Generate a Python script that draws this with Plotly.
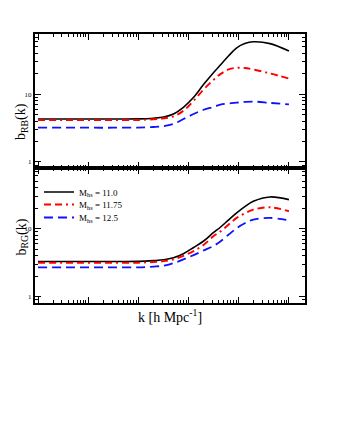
import plotly.graph_objects as go

# wavenumber k [h/Mpc]
k = [1e-4, 3.2e-4, 1e-3, 3.2e-3, 0.01, 0.02, 0.032, 0.05, 0.079, 0.126,
     0.2, 0.316, 0.43, 0.63, 0.91, 1.32, 1.95, 4.2, 10.0]

labels = ["M<sub>hs</sub> = 11.0", "M<sub>hs</sub> = 11.75", "M<sub>hs</sub> = 12.5"]

# b_RB(k)
b_rb_110 = [4.3, 4.3, 4.3, 4.3, 4.32, 4.42, 4.6, 5.1, 6.4, 9.0, 14.0, 21.0, 27.0, 37.0, 48.5, 56.0, 59.5, 56.0, 43.4]
b_rb_1175 = [4.15, 4.15, 4.15, 4.15, 4.17, 4.27, 4.42, 4.7, 5.7, 8.0, 11.8, 16.4, 19.8, 23.3, 24.6, 24.4, 23.2, 20.3, 17.0]
b_rb_125 = [3.2, 3.2, 3.2, 3.2, 3.21, 3.28, 3.38, 3.65, 4.3, 5.1, 5.9, 6.5, 7.0, 7.3, 7.5, 7.7, 7.8, 7.45, 7.06]

# b_RG(k)
b_rg_110 = [3.3, 3.3, 3.3, 3.3, 3.31, 3.4, 3.5, 3.75, 4.3, 5.3, 6.6, 8.8, 10.5, 13.5, 17.0, 21.0, 25.2, 29.2, 26.7]
b_rg_1175 = [3.16, 3.16, 3.16, 3.16, 3.17, 3.25, 3.35, 3.55, 4.0, 4.7, 5.8, 7.8, 9.1, 11.5, 14.4, 16.8, 19.0, 20.6, 18.0]
b_rg_125 = [2.7, 2.7, 2.7, 2.7, 2.71, 2.78, 2.86, 3.12, 3.55, 4.1, 4.8, 5.6, 6.5, 8.2, 10.2, 12.0, 13.6, 14.4, 13.2]

colors = ["black", "#ff0000", "#1010ff"]
dashes = ["solid", "7px,4px,7px,4px,2px,4px", "9px,5px"]
widths = [1.6, 1.9, 1.8]

# page body has an 8px margin, so work in page pixels minus 8
W, H = 331, 431
def px(x):
    return (x - 8) / W
def py(y):
    return 1 - (y - 8) / H

fig = go.Figure()
for i, ys in enumerate([b_rb_110, b_rb_1175, b_rb_125]):
    fig.add_trace(go.Scatter(x=k, y=ys, mode="lines", line_shape="spline",
                             line=dict(color=colors[i], width=widths[i], dash=dashes[i]),
                             xaxis="x", yaxis="y", showlegend=False))
legs = ["legend", "legend2", "legend3"]
for i, ys in enumerate([b_rg_110, b_rg_1175, b_rg_125]):
    fig.add_trace(go.Scatter(x=k, y=ys, mode="lines", line_shape="spline", name=labels[i],
                             line=dict(color=colors[i], width=widths[i], dash=dashes[i]),
                             xaxis="x2", yaxis="y2", legend=legs[i]))

xax = dict(type="log", range=[-4.06, 1.32], domain=[px(35), px(305)], dtick=1, showticklabels=False,
           ticks="inside", ticklen=6, tickwidth=1, tickcolor="black",
           minor=dict(ticks="inside", ticklen=3, tickcolor="black"),
           showline=True, linecolor="black", linewidth=2, mirror="allticks",
           showgrid=False, zeroline=False)
yax = dict(type="log", range=[-0.09, 1.89], dtick=1,
           ticks="inside", ticklen=6, tickwidth=1, tickcolor="black",
           minor=dict(ticks="inside", ticklen=3, tickcolor="black"),
           tickfont=dict(size=7, family="Liberation Serif", color="black"),
           showline=True, linecolor="black", linewidth=2, mirror="allticks",
           showgrid=False, zeroline=False)

leg_style = dict(xanchor="left", yanchor="middle", bgcolor="rgba(0,0,0,0)",
                 font=dict(size=9, family="Liberation Serif"), itemwidth=30)

fig.update_layout(
    width=W, height=H,
    margin=dict(l=0, r=0, t=0, b=0),
    paper_bgcolor="white", plot_bgcolor="white",
    font=dict(family="Liberation Serif", color="black"),
    xaxis=dict(xax, anchor="y"),
    yaxis=dict(yax, domain=[py(168), py(34)], anchor="x"),
    xaxis2=dict(xax, anchor="y2"),
    yaxis2=dict(yax, domain=[py(303), py(168)], anchor="x2"),
    legend=dict(leg_style, x=px(39), y=py(192)),
    legend2=dict(leg_style, x=px(39), y=py(204.5)),
    legend3=dict(leg_style, x=px(39), y=py(217.5)),
    annotations=[
        dict(text="b<sub>RB</sub>(k)", x=px(11), y=py(101), xref="paper", yref="paper",
             textangle=-90, showarrow=False, font=dict(size=14)),
        dict(text="b<sub>RG</sub>(k)", x=px(11), y=py(237), xref="paper", yref="paper",
             textangle=-90, showarrow=False, font=dict(size=14)),
        dict(text="k [h Mpc<sup>-1</sup>]", x=px(170), y=py(327), xref="paper", yref="paper",
             showarrow=False, font=dict(size=14)),
    ],
)

fig.write_html("out.html")
